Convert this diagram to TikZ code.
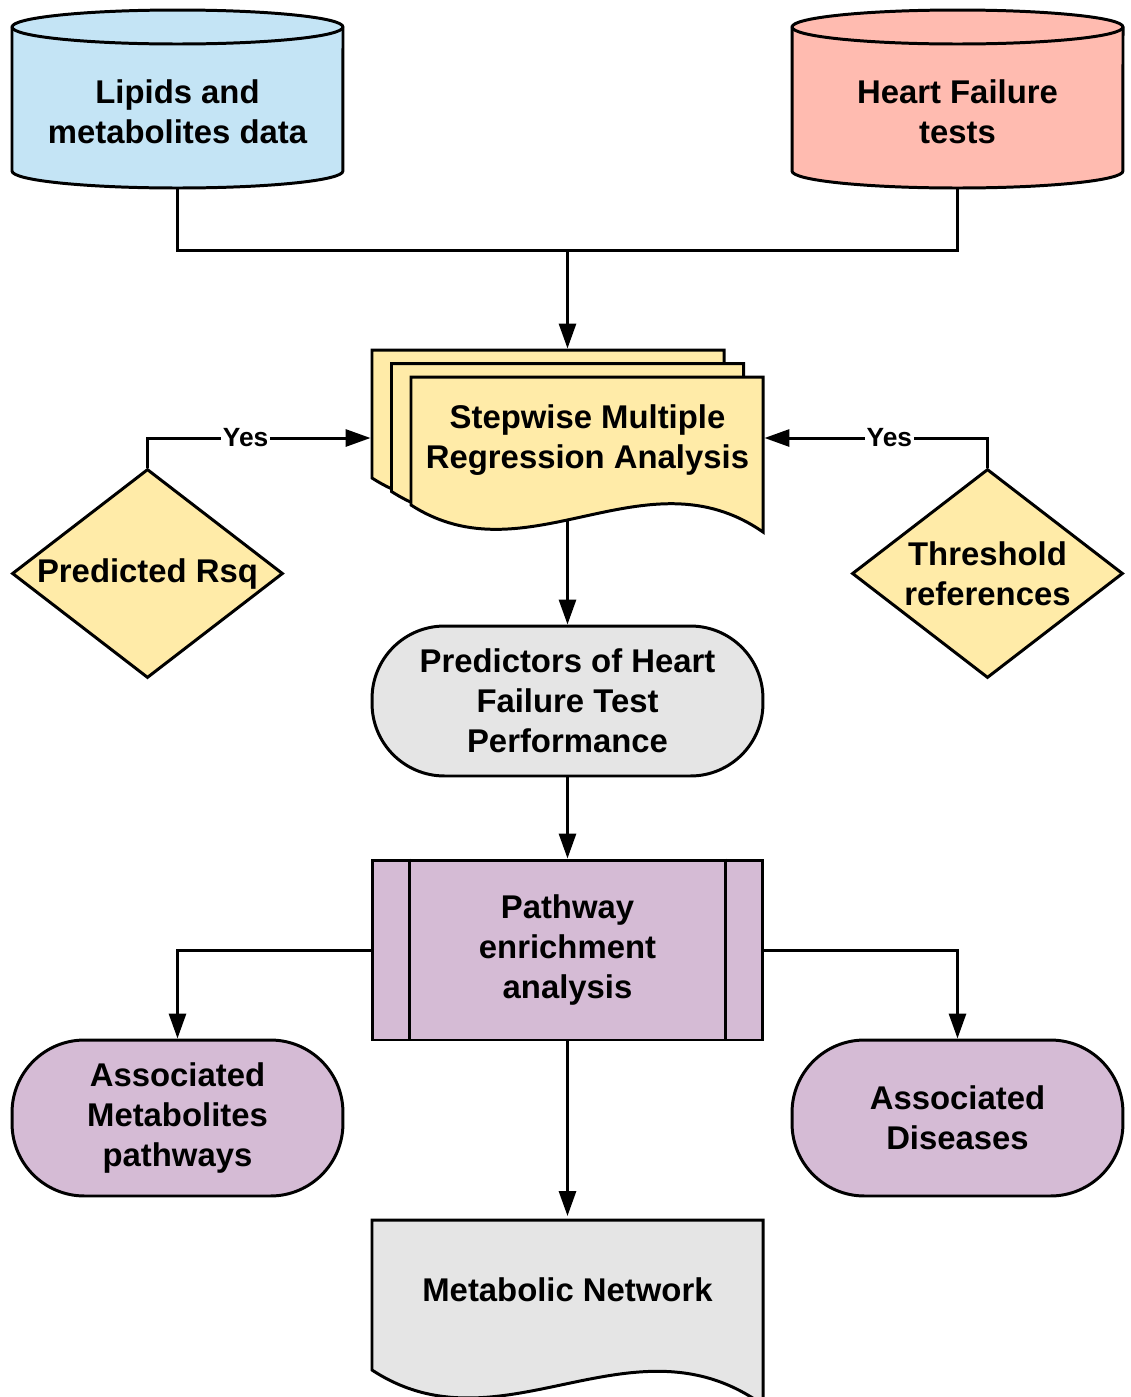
\documentclass[tikz,border=0pt]{standalone}
\usepackage{fontspec}
\setmainfont{Liberation Sans}
\usetikzlibrary{shapes.geometric,arrows.meta,backgrounds}

\definecolor{dbblue}{HTML}{C4E4F5}
\definecolor{hfred}{HTML}{FFBBB0}
\definecolor{docyellow}{HTML}{FFEBA8}
\definecolor{termgray}{HTML}{E5E5E5}
\definecolor{procpurple}{HTML}{D5BBD5}

\tikzset{
  arr/.style={line width=1.7pt, -{Triangle[length=0.5cm,width=0.34cm]}},
  yes/.style={font=\bfseries\fontsize{15}{16}\selectfont, fill=white, inner sep=1pt},
  decision/.style={diamond, aspect=1.3, draw, fill=docyellow, minimum width=5.42cm, minimum height=4.18cm},
  term/.style={rectangle, draw, rounded corners=1.45cm},
  proc/.style={rectangle, draw, fill=procpurple, minimum width=7.82cm, minimum height=3.6cm}
}

\begin{document}
\begin{tikzpicture}[x=0.02cm, y=-0.02cm, line width=1.7pt,
    every node/.style={font=\bfseries\fontsize{18.7}{22.7}\selectfont, align=center, inner sep=0pt}]
    \useasboundingbox (0,0) rectangle (1131,1397);
    \clip (0,0) rectangle (1131,1397);

    % data sources
    \foreach \xl/\col in {12/dbblue, 792/hfred} {
      \draw[fill=\col, shift={(\xl,0)}] (0,27) -- (0,171)
        arc[start angle=180, end angle=360, x radius=3.31cm, y radius=0.34cm] -- (331,27)
        arc[start angle=0, end angle=180, x radius=3.31cm, y radius=0.34cm] -- cycle;
      \draw[shift={(\xl,0)}] (0,27) arc[start angle=180, end angle=360, x radius=3.31cm, y radius=0.34cm];
    }
    \node (lipids) [minimum width=6.62cm, minimum height=3.04cm] at (177.5,112) {Lipids and\\metabolites data};
    \node (hf) [minimum width=6.62cm, minimum height=3.04cm] at (957.5,112) {Heart Failure\\tests};

    % stacked documents
    \foreach \d in {0,1,2}
      \draw[fill=docyellow, shift={(372+19.5*\d,350+13.5*\d)}] (0,0) -- (0,128)
        .. controls (116,203) and (234,73) .. (352,155) -- (352,0) -- cycle;
    \node (srma) [minimum width=7.82cm, minimum height=3.52cm] at (567.5,438) {};
    \node (srmatext) at ([shift={(0.4cm,-0.04cm)}]srma.center) {Stepwise Multiple\\Regression Analysis};

    \node (rsq) [decision] at (147.5,573.5) {Predicted Rsq};
    \node (thr) [decision] at (987.5,573.5) {Threshold\\references};

    \node (pred) [term, fill=termgray, minimum width=7.82cm, minimum height=3cm] at (567.5,701)
      {Predictors of Heart\\Failure Test\\Performance};
    \node (pea) [proc] at (567.5,950) {Pathway\\enrichment\\analysis};
    \draw ([xshift=0.78cm]pea.north west) -- ([xshift=0.78cm]pea.south west);
    \draw ([xshift=-0.78cm]pea.north east) -- ([xshift=-0.78cm]pea.south east);

    \node (amp) [term, fill=procpurple, minimum width=6.62cm, minimum height=3.12cm] at (177.5,1118)
      {Associated\\Metabolites\\pathways};
    \node (ad) [term, fill=procpurple, minimum width=6.62cm, minimum height=3.12cm] at (957.5,1118)
      {Associated\\Diseases};

    % output document
    \draw[fill=termgray, shift={(372,1220)}] (0,0) -- (0,150)
      .. controls (129,235) and (260,90) .. (391,185) -- (391,0) -- cycle;
    \node (net) [minimum width=7.82cm, minimum height=2.9cm] at (567.5,1290) {Metabolic Network};

    % connectors
    \coordinate (join) at (567.5,250);
    \draw[line width=1.7pt] (lipids.south) |- (join) -| (hf.south);
    \draw[arr] (join) -- (srma.north);
    \draw[arr] (rsq.north) |- node[yes, pos=0.72] {Yes} (srma.west);
    \draw[arr] (thr.north) |- node[yes, pos=0.72] {Yes} (srma.east);
    \draw[arr] (pred.south) -- (pea.north);
    \draw[arr] (pea.west) -| (amp.north);
    \draw[arr] (pea.east) -| (ad.north);
    \draw[arr] (pea.south) -- (net.north);
    \begin{pgfonlayer}{background}
      \draw[arr] (srma.center) -- (pred.north);
    \end{pgfonlayer}
  \end{tikzpicture}
\end{document}
